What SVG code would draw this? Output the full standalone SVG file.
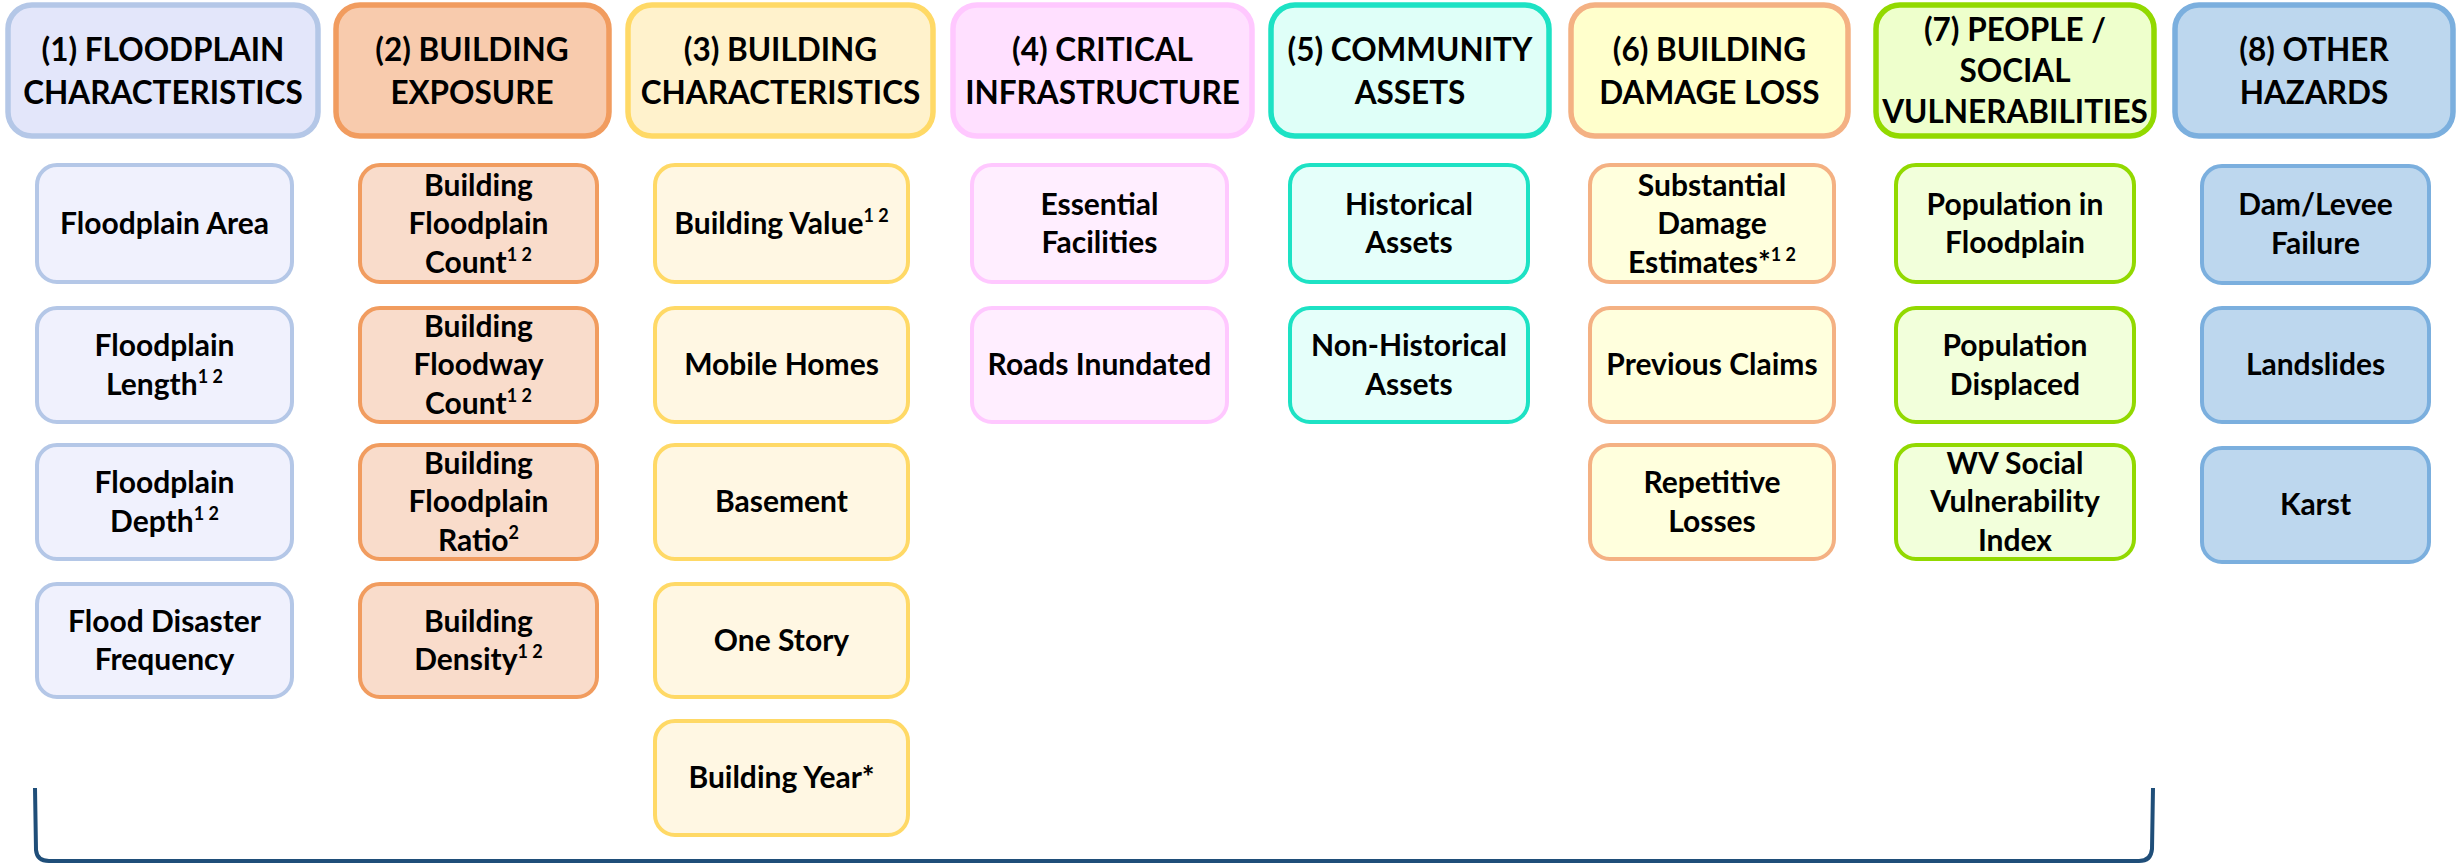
<svg xmlns="http://www.w3.org/2000/svg" width="2458" height="865" viewBox="0 0 2458 865">
<style>
text{font-family:Lato,"Liberation Sans",sans-serif;font-weight:bold;fill:#000;text-anchor:middle}
.h{font-size:31.5px}
.s{font-size:30px}
.sup{font-size:18px}
.hd{stroke-width:5.5}
.sb{stroke-width:4}
.c1 .hd{fill:#E3E6FA;stroke:#B4C7E7}.c1 .sb{fill:#F0F1FD;stroke:#B4C7E7}
.c2 .hd{fill:#F8CBAD;stroke:#F19C5F}.c2 .sb{fill:#F9DCCB;stroke:#F19C5F}
.c3 .hd{fill:#FFF2CC;stroke:#FFD966}.c3 .sb{fill:#FFF7E3;stroke:#FFD966}
.c4 .hd{fill:#FFE0FF;stroke:#FFC8FF}.c4 .sb{fill:#FFEEFF;stroke:#FFC8FF}
.c5 .hd{fill:#DFFFF8;stroke:#1DE2C4}.c5 .sb{fill:#E5FFFA;stroke:#1DE2C4}
.c6 .hd{fill:#FFFFCC;stroke:#F4B183}.c6 .sb{fill:#FFFFDD;stroke:#F4B183}
.c7 .hd{fill:#EEFFCC;stroke:#92D900}.c7 .sb{fill:#F2FFDB;stroke:#92D900}
.c8 .hd{fill:#BDD7EE;stroke:#7BAFDE}.c8 .sb{fill:#BDD7EE;stroke:#7BAFDE}
</style>
<g id="col1" class="c1">
 <g id="h1"><rect class="hd" x="8" y="5" width="310" height="131" rx="24"/><text class="h" x="163" y="61">(1) FLOODPLAIN</text><text class="h" x="163" y="104">CHARACTERISTICS</text></g>
 <g id="n1a"><rect class="sb" x="37" y="165" width="255" height="117" rx="20"/><text class="s" x="164.5" y="234">Floodplain Area</text></g>
 <g id="n1b"><rect class="sb" x="37" y="308" width="255" height="114" rx="20"/><text class="s" x="164.5" y="356">Floodplain</text><text class="s" x="164.5" y="394.5">Length<tspan class="sup" dy="-12">1 2</tspan></text></g>
 <g id="n1c"><rect class="sb" x="37" y="445" width="255" height="114" rx="20"/><text class="s" x="164.5" y="493">Floodplain</text><text class="s" x="164.5" y="531.5">Depth<tspan class="sup" dy="-12">1 2</tspan></text></g>
 <g id="n1d"><rect class="sb" x="37" y="584" width="255" height="113" rx="20"/><text class="s" x="164.5" y="631.5">Flood Disaster</text><text class="s" x="164.5" y="670">Frequency</text></g>
</g>
<g id="col2" class="c2">
 <g id="h2"><rect class="hd" x="336" y="5" width="273" height="131" rx="24"/><text class="h" x="472" y="61">(2) BUILDING</text><text class="h" x="472" y="104">EXPOSURE</text></g>
 <g id="n2a"><rect class="sb" x="360" y="165" width="237" height="117" rx="20"/><text class="s" x="478.5" y="195.5">Building</text><text class="s" x="478.5" y="234">Floodplain</text><text class="s" x="478.5" y="272.5">Count<tspan class="sup" dy="-12">1 2</tspan></text></g>
 <g id="n2b"><rect class="sb" x="360" y="308" width="237" height="114" rx="20"/><text class="s" x="478.5" y="336.5">Building</text><text class="s" x="478.5" y="375">Floodway</text><text class="s" x="478.5" y="413.5">Count<tspan class="sup" dy="-12">1 2</tspan></text></g>
 <g id="n2c"><rect class="sb" x="360" y="445" width="237" height="114" rx="20"/><text class="s" x="478.5" y="473.5">Building</text><text class="s" x="478.5" y="512">Floodplain</text><text class="s" x="478.5" y="550.5">Ratio<tspan class="sup" dy="-12">2</tspan></text></g>
 <g id="n2d"><rect class="sb" x="360" y="584" width="237" height="113" rx="20"/><text class="s" x="478.5" y="631.5">Building</text><text class="s" x="478.5" y="670">Density<tspan class="sup" dy="-12">1 2</tspan></text></g>
</g>
<g id="col3" class="c3">
 <g id="h3"><rect class="hd" x="628" y="5" width="305" height="131" rx="24"/><text class="h" x="780.5" y="61">(3) BUILDING</text><text class="h" x="780.5" y="104">CHARACTERISTICS</text></g>
 <g id="n3a"><rect class="sb" x="655" y="165" width="253" height="117" rx="20"/><text class="s" x="781.5" y="234">Building Value<tspan class="sup" dy="-12">1 2</tspan></text></g>
 <g id="n3b"><rect class="sb" x="655" y="308" width="253" height="114" rx="20"/><text class="s" x="781.5" y="375">Mobile Homes</text></g>
 <g id="n3c"><rect class="sb" x="655" y="445" width="253" height="114" rx="20"/><text class="s" x="781.5" y="512">Basement</text></g>
 <g id="n3d"><rect class="sb" x="655" y="584" width="253" height="113" rx="20"/><text class="s" x="781.5" y="650.5">One Story</text></g>
 <g id="n3e"><rect class="sb" x="655" y="721" width="253" height="114" rx="20"/><text class="s" x="781.5" y="788">Building Year*</text></g>
</g>
<g id="col4" class="c4">
 <g id="h4"><rect class="hd" x="953" y="5" width="299" height="131" rx="24"/><text class="h" x="1102.5" y="61">(4) CRITICAL</text><text class="h" x="1102.5" y="104">INFRASTRUCTURE</text></g>
 <g id="n4a"><rect class="sb" x="972" y="165" width="255" height="117" rx="20"/><text class="s" x="1099.5" y="214.5">Essential</text><text class="s" x="1099.5" y="253">Facilities</text></g>
 <g id="n4b"><rect class="sb" x="972" y="308" width="255" height="114" rx="20"/><text class="s" x="1099.5" y="375">Roads Inundated</text></g>
</g>
<g id="col5" class="c5">
 <g id="h5"><rect class="hd" x="1271" y="5" width="278" height="131" rx="24"/><text class="h" x="1410" y="61">(5) COMMUNITY</text><text class="h" x="1410" y="104">ASSETS</text></g>
 <g id="n5a"><rect class="sb" x="1290" y="165" width="238" height="117" rx="20"/><text class="s" x="1409" y="214.5">Historical</text><text class="s" x="1409" y="253">Assets</text></g>
 <g id="n5b"><rect class="sb" x="1290" y="308" width="238" height="114" rx="20"/><text class="s" x="1409" y="356">Non-Historical</text><text class="s" x="1409" y="394.5">Assets</text></g>
</g>
<g id="col6" class="c6">
 <g id="h6"><rect class="hd" x="1571" y="5" width="277" height="131" rx="24"/><text class="h" x="1709.5" y="61">(6) BUILDING</text><text class="h" x="1709.5" y="104">DAMAGE LOSS</text></g>
 <g id="n6a"><rect class="sb" x="1590" y="165" width="244" height="117" rx="20"/><text class="s" x="1712" y="195.5">Substantial</text><text class="s" x="1712" y="234">Damage</text><text class="s" x="1712" y="272.5">Estimates*<tspan class="sup" dy="-12">1 2</tspan></text></g>
 <g id="n6b"><rect class="sb" x="1590" y="308" width="244" height="114" rx="20"/><text class="s" x="1712" y="375">Previous Claims</text></g>
 <g id="n6c"><rect class="sb" x="1590" y="445" width="244" height="114" rx="20"/><text class="s" x="1712" y="493">Repetitive</text><text class="s" x="1712" y="531.5">Losses</text></g>
</g>
<g id="col7" class="c7">
 <g id="h7"><rect class="hd" x="1876" y="5" width="278" height="131" rx="24"/><text class="h" x="2015" y="41">(7) PEOPLE /</text><text class="h" x="2015" y="82">SOCIAL</text><text class="h" x="2015" y="123">VULNERABILITIES</text></g>
 <g id="n7a"><rect class="sb" x="1896" y="165" width="238" height="117" rx="20"/><text class="s" x="2015" y="214.5">Population in</text><text class="s" x="2015" y="253">Floodplain</text></g>
 <g id="n7b"><rect class="sb" x="1896" y="308" width="238" height="114" rx="20"/><text class="s" x="2015" y="356">Population</text><text class="s" x="2015" y="394.5">Displaced</text></g>
 <g id="n7c"><rect class="sb" x="1896" y="445" width="238" height="114" rx="20"/><text class="s" x="2015" y="473.5">WV Social</text><text class="s" x="2015" y="512">Vulnerability</text><text class="s" x="2015" y="550.5">Index</text></g>
</g>
<g id="col8" class="c8">
 <g id="h8"><rect class="hd" x="2175" y="5" width="278" height="131" rx="24"/><text class="h" x="2314" y="61">(8) OTHER</text><text class="h" x="2314" y="104">HAZARDS</text></g>
 <g id="n8a"><rect class="sb" x="2202" y="166" width="227" height="117" rx="20"/><text class="s" x="2315.5" y="215">Dam/Levee</text><text class="s" x="2315.5" y="253.5">Failure</text></g>
 <g id="n8b"><rect class="sb" x="2202" y="308" width="227" height="114" rx="20"/><text class="s" x="2315.5" y="375">Landslides</text></g>
 <g id="n8c"><rect class="sb" x="2202" y="448" width="227" height="114" rx="20"/><text class="s" x="2315.5" y="515">Karst</text></g>
</g>
<g id="connectors">
 <path d="M35,788 L36,850 Q37,861 49,861 L2139,861 Q2151,861 2152,849 L2153,788" fill="none" stroke="#1F4E79" stroke-width="4"/>
</g>
</svg>
